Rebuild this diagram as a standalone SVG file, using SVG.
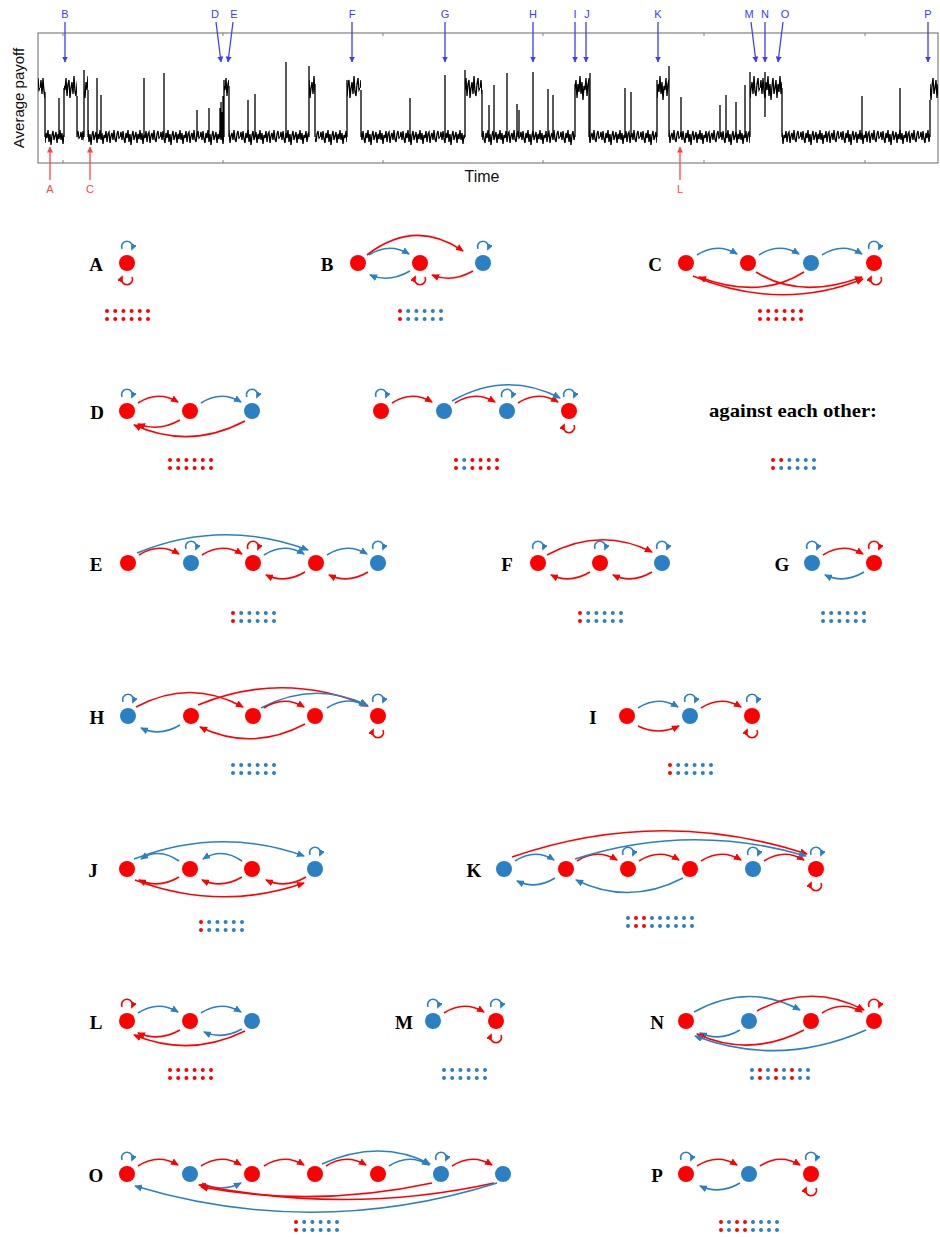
<svg xmlns="http://www.w3.org/2000/svg" width="940" height="1237" viewBox="0 0 940 1237">
<style>
.r{fill:#ff0000}
.b{fill:#2a80c2}
.er{fill:none;stroke:#ff0000;stroke-width:1.6;marker-end:url(#mr)}
.eb{fill:none;stroke:#2a80c2;stroke-width:1.6;marker-end:url(#mb)}
.lpr{fill:none;stroke:#ff0000;stroke-width:1.6;marker-end:url(#msr)}
.lpb{fill:none;stroke:#2a80c2;stroke-width:1.6;marker-end:url(#msb)}
.lbl{font-family:"Liberation Serif","Times New Roman",serif;font-weight:bold;font-size:19px;fill:#000;text-anchor:middle}
.dr{fill:none;stroke:#ff0000;stroke-width:4;stroke-linecap:round;stroke-dasharray:0 8.2}
.db{fill:none;stroke:#2a80c2;stroke-width:4;stroke-linecap:round;stroke-dasharray:0 8.2}
.d8{stroke-dasharray:0 8}
.tb{font-family:"Liberation Sans",Arial,sans-serif;font-size:11px;fill:#3c3cff;text-anchor:middle}
.tr{font-family:"Liberation Sans",Arial,sans-serif;font-size:11px;fill:#ff4646;text-anchor:middle}
.ab{fill:none;stroke:#3c3cff;stroke-width:1.3;marker-end:url(#mcb)}
.ar{fill:none;stroke:#ff4646;stroke-width:1.3;marker-end:url(#mcr)}
.tl{fill:none;stroke:#000;stroke-width:1.3}
</style>
<defs>
<marker id="mr" viewBox="0 0 8 7" refX="7" refY="3.5" markerWidth="8" markerHeight="7" orient="auto" markerUnits="userSpaceOnUse"><path d="M0,0L8,3.5L0,7z" fill="#ff0000"/></marker>
<marker id="mb" viewBox="0 0 8 7" refX="7" refY="3.5" markerWidth="8" markerHeight="7" orient="auto" markerUnits="userSpaceOnUse"><path d="M0,0L8,3.5L0,7z" fill="#2a80c2"/></marker>
<marker id="msr" viewBox="0 0 7 6" refX="5" refY="3" markerWidth="7" markerHeight="6" orient="auto" markerUnits="userSpaceOnUse"><path d="M0,0L7,3L0,6z" fill="#ff0000"/></marker>
<marker id="msb" viewBox="0 0 7 6" refX="5" refY="3" markerWidth="7" markerHeight="6" orient="auto" markerUnits="userSpaceOnUse"><path d="M0,0L7,3L0,6z" fill="#2a80c2"/></marker>
<marker id="mcb" viewBox="0 0 6 6" refX="5.5" refY="3" markerWidth="6" markerHeight="6" orient="auto" markerUnits="userSpaceOnUse"><path d="M0,0L6,3L0,6z" fill="#3c3cff"/></marker>
<marker id="mcr" viewBox="0 0 6 6" refX="5.5" refY="3" markerWidth="6" markerHeight="6" orient="auto" markerUnits="userSpaceOnUse"><path d="M0,0L6,3L0,6z" fill="#ff4646"/></marker>
<path id="lt" d="M-5,-14A5.5,5.5 0 1 1 5,-14"/>
<path id="lb" d="M5,14A5.5,5.5 0 1 1 -5,14"/>
<pattern id="nl" patternUnits="userSpaceOnUse" x="0" y="123" width="40" height="28">
<polyline fill="none" stroke="#000" stroke-width="1.3" points="0,14 1,9 2,17 3,8 4,16 5,20 6,10 7,15 8,7 9,19 10,11 11,22 12,12 13,8 14,17 15,13 16,9 17,20 18,11 19,16 20,7 21,17 22,10 23,21 24,12 25,15 26,8 27,19 28,11 29,9 30,20 31,13 32,10 33,17 34,7 35,16 36,19 37,11 38,8 39,15 40,14"/>
</pattern>
<pattern id="nh" patternUnits="userSpaceOnUse" x="0" y="62" width="40" height="52">
<polyline fill="none" stroke="#000" stroke-width="1.3" points="0,26 1,18 2,32 3,16 4,30 5,36 6,20 7,28 8,14 9,34 10,22 11,38 12,24 13,16 14,32 15,26 16,18 17,36 18,22 19,30 20,14 21,32 22,20 23,38 24,24 25,28 26,16 27,34 28,22 29,18 30,36 31,26 32,20 33,32 34,14 35,30 36,34 37,22 38,16 39,28 40,26"/>
</pattern>
</defs>
<rect width="940" height="1237" fill="#fff"/>

<g id="chart">
<rect x="38" y="33" width="900" height="130" fill="none" stroke="#808080" stroke-width="1.2"/>
<path d="M63,33v3M223,33v3M383,33v3M543,33v3M704,33v3M865,33v3M63,163v-3M223,163v-3M383,163v-3M543,163v-3M704,163v-3M865,163v-3" stroke="#808080" stroke-width="1"/>
<text transform="translate(24,98) rotate(-90)" font-family="Liberation Sans,Arial,sans-serif" font-size="15" text-anchor="middle" fill="#111">Average payoff</text>
<text x="482" y="182" font-family="Liberation Sans,Arial,sans-serif" font-size="16" text-anchor="middle" fill="#111">Time</text>
<g id="trace">
<rect x="38" y="62" width="7" height="52" fill="url(#nh)"/>
<rect x="64" y="62" width="13" height="52" fill="url(#nh)"/>
<rect x="84" y="62" width="4" height="52" fill="url(#nh)"/>
<rect x="224" y="62" width="5" height="52" fill="url(#nh)"/>
<rect x="309" y="62" width="6" height="52" fill="url(#nh)"/>
<rect x="347" y="62" width="14" height="52" fill="url(#nh)"/>
<rect x="465" y="62" width="17" height="52" fill="url(#nh)"/>
<rect x="575" y="62" width="14" height="52" fill="url(#nh)"/>
<rect x="657" y="62" width="12" height="52" fill="url(#nh)"/>
<rect x="750" y="62" width="32" height="52" fill="url(#nh)"/>
<rect x="930" y="72" width="8" height="42" fill="url(#nh)"/>
<rect x="45" y="123" width="19" height="28" fill="url(#nl)"/>
<rect x="77" y="123" width="7" height="28" fill="url(#nl)"/>
<rect x="88" y="123" width="136" height="28" fill="url(#nl)"/>
<rect x="229" y="123" width="80" height="28" fill="url(#nl)"/>
<rect x="315" y="123" width="32" height="28" fill="url(#nl)"/>
<rect x="361" y="123" width="104" height="28" fill="url(#nl)"/>
<rect x="482" y="123" width="93" height="28" fill="url(#nl)"/>
<rect x="589" y="123" width="68" height="28" fill="url(#nl)"/>
<rect x="669" y="123" width="81" height="28" fill="url(#nl)"/>
<rect x="782" y="123" width="148" height="28" fill="url(#nl)"/>
<path class="tl" d="M45,92V137M64,88V137M77,96V137M84,70V137M88,90V137M220,137V108M221,137V102M222,137V112M223,137V96M224,80V137M229,86V137M309,66V137M315,84V137M347,80V137M361,90V137M465,70V137M482,90V137M575,84V137M589,78V137M657,80V137M669,66V137M750,72V137M765,117V72M782,88V137M930,100V137"/>
<path class="tl" d="M59,137V98M97,137V78M101,137V95M144,137V78M164,137V73M197,137V110M209,137V108M248,137V100M255,137V94M286,137V62M410,137V98M445,137V75M489,137V105M494,137V85M507,137V73M517,137V104M519,137V110M533,137V72M548,137V89M553,137V95M590,137V73M625,137V88M631,137V92M681,137V97M720,137V105M726,137V95M736,137V102M745,137V85M862,137V96M900,137V88"/>
</g>
<g id="markers-top">
<path class="ab" d="M65,22V62"/>
<path class="ab" d="M216,22L221,62"/>
<path class="ab" d="M233,22L228,62"/>
<path class="ab" d="M352,22V62"/>
<path class="ab" d="M445,22V62"/>
<path class="ab" d="M533,22V62"/>
<path class="ab" d="M575,22V62"/>
<path class="ab" d="M586,22V62"/>
<path class="ab" d="M658,22V62"/>
<path class="ab" d="M751,22L756,62"/>
<path class="ab" d="M765,22V62"/>
<path class="ab" d="M783,22L778,62"/>
<path class="ab" d="M928,22V62"/>
<text class="tb" x="65" y="18">B</text>
<text class="tb" x="215" y="18">D</text>
<text class="tb" x="234" y="18">E</text>
<text class="tb" x="352" y="18">F</text>
<text class="tb" x="445" y="18">G</text>
<text class="tb" x="533" y="18">H</text>
<text class="tb" x="575" y="18">I</text>
<text class="tb" x="587" y="18">J</text>
<text class="tb" x="658" y="18">K</text>
<text class="tb" x="749" y="18">M</text>
<text class="tb" x="765" y="18">N</text>
<text class="tb" x="785" y="18">O</text>
<text class="tb" x="928" y="18">P</text>
<path class="ar" d="M50,180V147"/>
<path class="ar" d="M90,180V147"/>
<path class="ar" d="M680,180V147"/>
<text class="tr" x="50" y="193">A</text>
<text class="tr" x="90" y="193">C</text>
<text class="tr" x="680" y="193">L</text>
</g>
</g>

<g id="pA">
<text class="lbl" x="96" y="271">A</text>
<g id="A1"><circle class="r" cx="127" cy="263" r="8"/><use href="#lt" x="127" y="263" class="lpb"/><use href="#lb" x="127" y="263" class="lpr"/></g>
<path class="dr" d="M107,311H148.1M107,319H148.1"/>
</g>

<g id="pB">
<text class="lbl" x="327" y="271">B</text>
<g id="B1"><circle class="r" cx="358" cy="263" r="8"/></g>
<g id="B2"><circle class="r" cx="420" cy="263" r="8"/><use href="#lb" x="420" y="263" class="lpr"/></g>
<g id="B3"><circle class="b" cx="483" cy="263" r="8"/><use href="#lt" x="483" y="263" class="lpb"/></g>
<g id="B-edges">
<path class="er" d="M367,255Q415,218 463,251"/>
<path class="eb" d="M369,255Q389,242 409,254"/>
<path class="eb" d="M410,271Q389,283 370,275"/>
<path class="er" d="M473,271Q452,283 432,275"/>
</g>
<path class="dr" d="M400,311h.01M400,319h.01"/>
<path class="db" d="M408.2,311H441.1M408.2,319H441.1"/>
</g>

<g id="pC">
<text class="lbl" x="655" y="271">C</text>
<g id="C1"><circle class="r" cx="686" cy="263" r="8"/></g>
<g id="C2"><circle class="r" cx="748" cy="263" r="8"/></g>
<g id="C3"><circle class="b" cx="811" cy="263" r="8"/></g>
<g id="C4"><circle class="r" cx="874" cy="263" r="8"/><use href="#lt" x="874" y="263" class="lpb"/><use href="#lb" x="876" y="263" class="lpr"/></g>
<g id="C-edges">
<path class="eb" d="M697,255Q717,242 737,254"/>
<path class="eb" d="M759,255Q779,242 799,254"/>
<path class="eb" d="M822,255Q842,242 862,254"/>
<path class="er" d="M693,276Q780,312 863,279"/>
<path class="er" d="M756,272Q800,300 862,277"/>
<path class="er" d="M804,272Q760,300 699,277"/>
</g>
<path class="dr" d="M760,311H801.1M760,319H801.1"/>
</g>

<g id="pD">
<text class="lbl" x="97" y="419">D</text>
<g id="D1"><circle class="r" cx="127" cy="411" r="8"/><use href="#lt" x="127" y="411" class="lpb"/></g>
<g id="D2"><circle class="r" cx="190" cy="411" r="8"/></g>
<g id="D3"><circle class="b" cx="252" cy="411" r="8"/><use href="#lt" x="252" y="411" class="lpb"/></g>
<g id="D-edges">
<path class="er" d="M138,403Q158,390 178,402"/>
<path class="eb" d="M201,403Q221,390 241,402"/>
<path class="er" d="M180,420Q159,432 138,424"/>
<path class="er" d="M245,421Q190,450 134,425"/>
</g>
<path class="dr" d="M170,460H211.1M170,468H211.1"/>
</g>

<g id="pD2">
<g id="D2-1"><circle class="r" cx="381" cy="411" r="8"/><use href="#lt" x="381" y="411" class="lpb"/></g>
<g id="D2-2"><circle class="b" cx="444" cy="411" r="8"/></g>
<g id="D2-3"><circle class="b" cx="507" cy="411" r="8"/><use href="#lt" x="507" y="411" class="lpb"/></g>
<g id="D2-4"><circle class="r" cx="569" cy="411" r="8"/><use href="#lt" x="569" y="411" class="lpb"/><use href="#lb" x="569" y="411" class="lpr"/></g>
<g id="D2-edges">
<path class="er" d="M392,403Q412,390 432,402"/>
<path class="er" d="M455,403Q475,390 495,402"/>
<path class="er" d="M518,403Q538,390 558,402"/>
<path class="eb" d="M452,401Q506,370 560,398"/>
</g>
<path class="dr" d="M456,460h.01M456,468h.01M472.4,460H497.1M472.4,468H497.1"/>
<path class="db" d="M464.2,460h.01M464.2,468h.01"/>
</g>

<g id="pAgainst">
<text x="793" y="417" font-family="Liberation Serif,Times New Roman,serif" font-weight="bold" font-size="19" text-anchor="middle" textLength="168" lengthAdjust="spacingAndGlyphs">against each other:</text>
<path class="dr" d="M773,460H781.3M773,468h.01"/>
<path class="db" d="M789.4,460H814.1M781.2,468H814.1"/>
</g>

<g id="pE">
<text class="lbl" x="96" y="571">E</text>
<g id="E1"><circle class="r" cx="128" cy="563" r="8"/></g>
<g id="E2"><circle class="b" cx="191" cy="563" r="8"/><use href="#lt" x="191" y="563" class="lpb"/></g>
<g id="E3"><circle class="r" cx="253" cy="563" r="8"/><use href="#lt" x="253" y="563" class="lpr"/></g>
<g id="E4"><circle class="r" cx="316" cy="563" r="8"/></g>
<g id="E5"><circle class="b" cx="378" cy="563" r="8"/><use href="#lt" x="378" y="563" class="lpb"/></g>
<g id="E-edges">
<path class="er" d="M139,555Q159,542 179,554"/>
<path class="er" d="M202,555Q222,542 242,554"/>
<path class="eb" d="M264,555Q284,542 304,554"/>
<path class="eb" d="M327,555Q347,542 367,554"/>
<path class="eb" d="M137,553Q222,518 308,550"/>
<path class="er" d="M305,572Q285,584 266,575"/>
<path class="er" d="M368,572Q348,584 329,575"/>
</g>
<path class="dr" d="M233,613h.01M233,621h.01"/>
<path class="db" d="M241.2,613H274.1M241.2,621H274.1"/>
</g>

<g id="pF">
<text class="lbl" x="507" y="571">F</text>
<g id="F1"><circle class="r" cx="538" cy="563" r="8"/><use href="#lt" x="538" y="563" class="lpb"/></g>
<g id="F2"><circle class="r" cx="600" cy="563" r="8"/><use href="#lt" x="600" y="563" class="lpb"/></g>
<g id="F3"><circle class="b" cx="662" cy="563" r="8"/><use href="#lt" x="662" y="563" class="lpb"/></g>
<g id="F-edges">
<path class="er" d="M547,555Q600,526 652,552"/>
<path class="er" d="M590,572Q570,584 551,575"/>
<path class="er" d="M652,572Q632,584 613,575"/>
</g>
<path class="dr" d="M580,613h.01M580,621h.01"/>
<path class="db" d="M588.2,613H621.1M588.2,621H621.1"/>
</g>

<g id="pG">
<text class="lbl" x="782" y="571">G</text>
<g id="G1"><circle class="b" cx="812" cy="563" r="8"/><use href="#lt" x="812" y="563" class="lpb"/></g>
<g id="G2"><circle class="r" cx="874" cy="563" r="8"/><use href="#lt" x="874" y="563" class="lpr"/></g>
<g id="G-edges">
<path class="er" d="M823,555Q843,542 863,554"/>
<path class="eb" d="M864,572Q844,584 825,575"/>
</g>
<path class="db" d="M823,613H864.1M823,621H864.1"/>
</g>

<g id="pH">
<text class="lbl" x="97" y="724">H</text>
<g id="H1"><circle class="b" cx="128" cy="716" r="8"/><use href="#lt" x="128" y="716" class="lpb"/></g>
<g id="H2"><circle class="r" cx="191" cy="716" r="8"/></g>
<g id="H3"><circle class="r" cx="253" cy="716" r="8"/></g>
<g id="H4"><circle class="r" cx="315" cy="716" r="8"/></g>
<g id="H5"><circle class="r" cx="378" cy="716" r="8"/><use href="#lt" x="378" y="716" class="lpb"/><use href="#lb" x="378" y="716" class="lpr"/></g>
<g id="H-edges">
<path class="er" d="M136,707Q190,678 243,707"/>
<path class="er" d="M198,705Q283,670 368,706"/>
<path class="eb" d="M261,708Q314,680 367,705"/>
<path class="er" d="M264,708Q284,695 304,707"/>
<path class="eb" d="M327,708Q347,695 366,706"/>
<path class="eb" d="M180,725Q160,737 141,728"/>
<path class="er" d="M305,724Q252,752 200,727"/>
</g>
<path class="db" d="M233,765H274.1M233,773H274.1"/>
</g>

<g id="pI">
<text class="lbl" x="593" y="724">I</text>
<g id="I1"><circle class="r" cx="627" cy="716" r="8"/></g>
<g id="I2"><circle class="b" cx="690" cy="716" r="8"/><use href="#lt" x="690" y="716" class="lpb"/></g>
<g id="I3"><circle class="r" cx="752" cy="716" r="8"/><use href="#lt" x="752" y="716" class="lpb"/><use href="#lb" x="752" y="716" class="lpr"/></g>
<g id="I-edges">
<path class="eb" d="M638,708Q658,695 678,707"/>
<path class="er" d="M638,726Q658,736 679,726"/>
<path class="er" d="M701,708Q721,695 741,707"/>
</g>
<path class="dr" d="M670,765h.01M670,773h.01"/>
<path class="db" d="M678.2,765H711.1M678.2,773H711.1"/>
</g>

<g id="pJ">
<text class="lbl" x="93" y="877">J</text>
<g id="J1"><circle class="r" cx="127" cy="869" r="8"/></g>
<g id="J2"><circle class="r" cx="190" cy="869" r="8"/></g>
<g id="J3"><circle class="r" cx="252" cy="869" r="8"/></g>
<g id="J4"><circle class="b" cx="315" cy="869" r="8"/><use href="#lt" x="315" y="869" class="lpb"/></g>
<g id="J-edges">
<path class="eb" d="M134,859Q220,826 304,856"/>
<path class="eb" d="M179,861Q159,847 141,859"/>
<path class="eb" d="M242,861Q222,847 203,859"/>
<path class="er" d="M179,877Q159,889 139,880"/>
<path class="er" d="M242,877Q222,889 202,880"/>
<path class="er" d="M306,877Q286,889 266,880"/>
<path class="er" d="M135,880Q220,912 304,883"/>
</g>
<path class="dr" d="M201,922h.01M201,930h.01"/>
<path class="db" d="M209.2,922H242.1M209.2,930H242.1"/>
</g>

<g id="pK">
<text class="lbl" x="474" y="877">K</text>
<g id="K1"><circle class="b" cx="504" cy="869" r="8"/></g>
<g id="K2"><circle class="r" cx="566" cy="869" r="8"/></g>
<g id="K3"><circle class="r" cx="628" cy="869" r="8"/><use href="#lt" x="628" y="869" class="lpb"/></g>
<g id="K4"><circle class="r" cx="690" cy="869" r="8"/></g>
<g id="K5"><circle class="b" cx="753" cy="869" r="8"/><use href="#lt" x="753" y="869" class="lpb"/></g>
<g id="K6"><circle class="r" cx="816" cy="869" r="8"/><use href="#lt" x="816" y="869" class="lpb"/><use href="#lb" x="816" y="869" class="lpr"/></g>
<g id="K-edges">
<path class="eb" d="M515,861Q535,848 554,860"/>
<path class="eb" d="M555,878Q536,890 517,881"/>
<path class="er" d="M577,861Q597,848 617,860"/>
<path class="er" d="M639,861Q659,848 679,860"/>
<path class="er" d="M701,861Q721,848 741,860"/>
<path class="er" d="M764,861Q784,848 804,860"/>
<path class="er" d="M512,857Q660,806 807,854"/>
<path class="eb" d="M575,859Q690,822 806,856"/>
<path class="eb" d="M683,878Q629,906 576,880"/>
</g>
<path class="db d8" d="M628,918h.01M628,926h.01M652,918H692.1M652,926H692.1"/>
<path class="dr d8" d="M636,918H644.1M636,926H644.1"/>
</g>

<g id="pL">
<text class="lbl" x="96" y="1029">L</text>
<g id="L1"><circle class="r" cx="127" cy="1021" r="8"/><use href="#lt" x="127" y="1021" class="lpr"/></g>
<g id="L2"><circle class="r" cx="190" cy="1021" r="8"/></g>
<g id="L3"><circle class="b" cx="252" cy="1021" r="8"/></g>
<g id="L-edges">
<path class="eb" d="M138,1013Q158,1000 178,1012"/>
<path class="eb" d="M201,1013Q221,1000 241,1012"/>
<path class="er" d="M180,1030Q159,1042 138,1033"/>
<path class="er" d="M245,1031Q190,1058 134,1035"/>
<path class="eb" d="M242,1029Q222,1040 204,1032"/>
</g>
<path class="dr" d="M170,1070H211.1M170,1078H211.1"/>
</g>

<g id="pM">
<text class="lbl" x="404" y="1029">M</text>
<g id="M1"><circle class="b" cx="433" cy="1021" r="8"/><use href="#lt" x="433" y="1021" class="lpb"/></g>
<g id="M2"><circle class="r" cx="496" cy="1021" r="8"/><use href="#lt" x="496" y="1021" class="lpb"/><use href="#lb" x="496" y="1021" class="lpr"/></g>
<g id="M-edges">
<path class="er" d="M444,1013Q464,1000 484,1012"/>
</g>
<path class="db" d="M444,1070H485.1M444,1078H485.1"/>
</g>

<g id="pN">
<text class="lbl" x="657" y="1029">N</text>
<g id="N1"><circle class="r" cx="686" cy="1021" r="8"/></g>
<g id="N2"><circle class="b" cx="749" cy="1021" r="8"/></g>
<g id="N3"><circle class="r" cx="811" cy="1021" r="8"/></g>
<g id="N4"><circle class="r" cx="874" cy="1021" r="8"/><use href="#lt" x="874" y="1021" class="lpr"/></g>
<g id="N-edges">
<path class="eb" d="M694,1012Q748,982 800,1010"/>
<path class="er" d="M757,1011Q811,982 864,1010"/>
<path class="er" d="M822,1013Q842,1000 862,1012"/>
<path class="eb" d="M740,1030Q720,1042 700,1033"/>
<path class="er" d="M804,1030Q750,1058 697,1034"/>
<path class="eb" d="M866,1030Q780,1068 695,1036"/>
</g>
<path class="db d8" d="M752,1070h.01M768,1070h.01M784,1070h.01M800,1070H808.1M752,1078h.01M768,1078h.01M784,1078h.01M800,1078H808.1"/>
<path class="dr d8" d="M760,1070h.01M776,1070h.01M792,1070h.01M760,1078h.01M776,1078h.01M792,1078h.01"/>
</g>

<g id="pO">
<text class="lbl" x="96" y="1182">O</text>
<g id="O1"><circle class="r" cx="127" cy="1174" r="8"/><use href="#lt" x="127" y="1174" class="lpb"/></g>
<g id="O2"><circle class="b" cx="190" cy="1174" r="8"/></g>
<g id="O3"><circle class="r" cx="252" cy="1174" r="8"/></g>
<g id="O4"><circle class="r" cx="315" cy="1174" r="8"/></g>
<g id="O5"><circle class="r" cx="378" cy="1174" r="8"/></g>
<g id="O6"><circle class="b" cx="441" cy="1174" r="8"/><use href="#lt" x="441" y="1174" class="lpb"/></g>
<g id="O7"><circle class="b" cx="503" cy="1174" r="8"/></g>
<g id="O-edges">
<path class="er" d="M138,1166Q158,1153 178,1165"/>
<path class="er" d="M201,1166Q221,1153 241,1165"/>
<path class="eb" d="M202,1183Q221,1193 241,1183"/>
<path class="er" d="M264,1166Q284,1153 304,1165"/>
<path class="er" d="M326,1166Q346,1153 366,1165"/>
<path class="eb" d="M322,1164Q380,1138 430,1164"/>
<path class="eb" d="M389,1166Q409,1153 429,1165"/>
<path class="er" d="M452,1166Q472,1153 492,1165"/>
<path class="er" d="M432,1183Q316,1208 201,1187"/>
<path class="er" d="M494,1183Q350,1215 199,1185"/>
<path class="eb" d="M497,1183Q315,1240 135,1186"/>
</g>
<path class="dr" d="M296,1222h.01M296,1230h.01"/>
<path class="db" d="M304.2,1222H337.1M304.2,1230H337.1"/>
</g>

<g id="pP">
<text class="lbl" x="657" y="1182">P</text>
<g id="P1"><circle class="r" cx="686" cy="1174" r="8"/><use href="#lt" x="686" y="1174" class="lpb"/></g>
<g id="P2"><circle class="b" cx="749" cy="1174" r="8"/></g>
<g id="P3"><circle class="r" cx="811" cy="1174" r="8"/><use href="#lt" x="811" y="1174" class="lpb"/><use href="#lb" x="811" y="1174" class="lpr"/></g>
<g id="P-edges">
<path class="er" d="M697,1166Q717,1153 737,1165"/>
<path class="eb" d="M740,1183Q720,1195 700,1186"/>
<path class="er" d="M760,1166Q780,1153 800,1165"/>
</g>
<path class="dr d8" d="M721,1222h.01M737,1222H745.1M721,1230h.01M737,1230H745.1"/>
<path class="db d8" d="M729,1222h.01M753,1222H777.1M729,1230h.01M753,1230H777.1"/>
</g>
</svg>
